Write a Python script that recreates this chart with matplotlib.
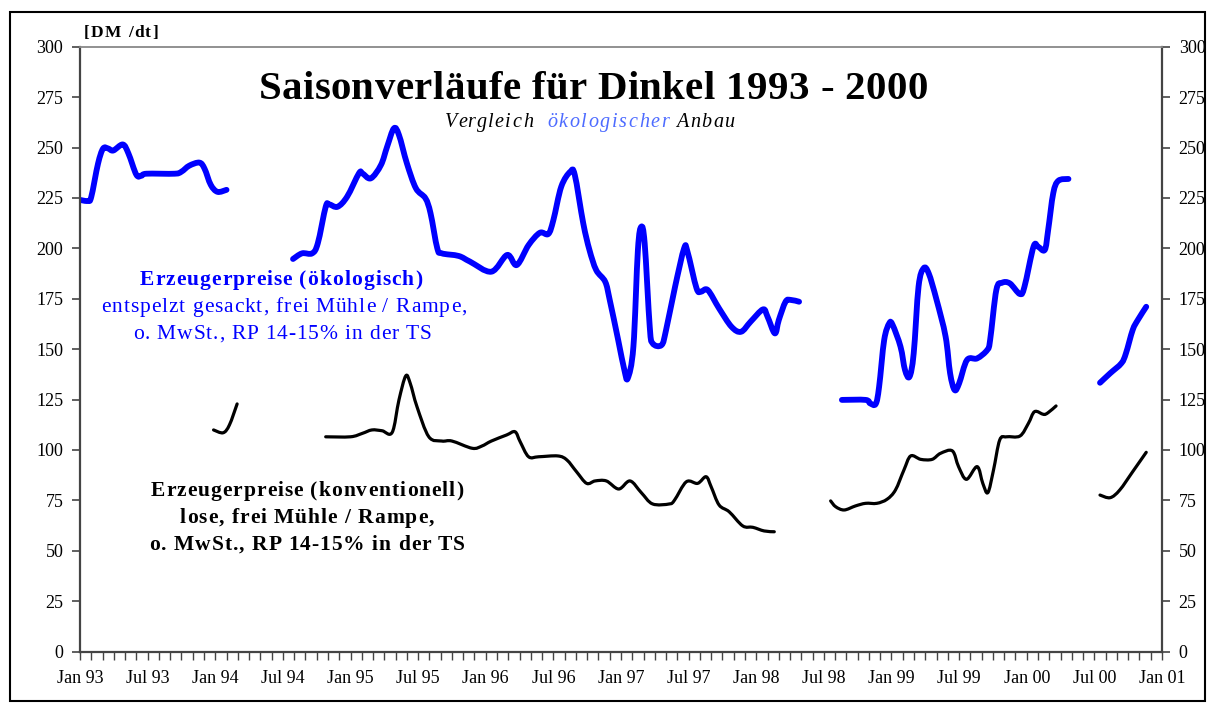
import matplotlib
matplotlib.use("Agg")
import matplotlib.pyplot as plt
from matplotlib.patches import Rectangle, PathPatch
from matplotlib.path import Path

plt.rcParams['font.family'] = ['Liberation Serif', 'DejaVu Serif']

# ---- data: months since Jan 1993, prices in DM/dt ----
eco_m1 = [0, 0.7, 1.0, 1.6, 2.05, 2.5, 2.95, 3.8, 4.3, 5.0, 5.45, 5.9, 8.4, 9.0, 9.7, 10.6, 11.05, 11.6, 12.2, 13.0]
eco_v1 = [224, 223.5, 225.5, 242, 249.5, 249.5, 248.5, 251.5, 247, 236.5, 236, 237, 237, 238, 241, 242.5, 239.5, 231.5, 228, 229]

eco_m2 = [18.9, 19.7, 20.6, 21.1, 21.8, 22.1, 22.85, 23.7, 24.75, 25.05, 25.8, 26.7, 27.25, 27.85, 28.3, 29.0,
          29.8, 30.65, 31.1, 31.7, 32.1, 33.6, 34.6, 36.5, 37.9, 38.75, 39.8, 40.8, 41.55, 42.0, 42.7, 43.5,
          43.9, 44.65, 45.2, 45.8, 46.6, 47.0, 47.75, 48.3, 48.6, 49.1, 49.5, 49.8, 50.1, 50.55, 50.8, 51.6,
          52.0, 52.8, 53.6, 53.9, 54.7, 55.1, 55.7, 56.7, 57.8, 58.65, 59.5, 60.6, 61.0, 61.65, 62.0, 62.6,
          63.05, 63.8]
eco_v2 = [194.7, 197.5, 197.5, 202.5, 220.6, 221.8, 220.6, 225.6, 237.2, 237.2, 234.7, 241.3, 250.4, 259.5, 256.2, 242.2,
          229.8, 224.8, 217.4, 200, 197.5, 196.2, 193.4, 188.4, 196.7, 191.7, 201.6, 207.7, 207.1, 214, 230.6, 238,
          236.4, 212.4, 199.2, 189.2, 183.4, 174.4, 154.5, 139.6, 135.5, 151.2, 199.2, 210.7, 202.5, 161.1, 152.9, 152,
          159.5, 181, 200, 198.3, 180.2, 178.5, 179.3, 170.2, 161.1, 158.6, 163.6, 169.7, 166.1, 157.8, 164.4, 173.5,
          174.4, 173.5]

eco_m3 = [67.6, 69.7, 70.1, 70.6, 70.9, 71.35, 71.8, 72.1, 72.8, 73.2, 73.6, 73.97, 74.4, 74.85, 75.3, 76.0,
          76.8, 77.2, 77.6, 78.0, 78.7, 79.6, 80.5, 80.75, 81.3, 81.8, 82.5, 83.4, 83.8, 84.6, 85.0, 85.6,
          85.9, 86.35, 86.8, 87.7]
eco_v3 = [124.8, 124.8, 123.1, 122.8, 131.3, 154.5, 162.8, 162, 151.2, 139.6, 136.3, 147.9, 181, 190.1, 187.6, 174.4,
          156.2, 138, 129.7, 133, 144.6, 145.4, 149.6, 154.5, 179.3, 182.9, 182.6, 177.3, 181, 200.8, 200.8, 199.2,
          209.1, 227.3, 233.5, 234.4]

eco_m4 = [90.5, 91.4, 92.4, 92.8, 93.4, 93.85, 94.6]
eco_v4 = [133.3, 138, 143, 147.9, 159.5, 164.4, 171]

conv_m1 = [11.85, 12.7, 13.26, 13.94]
conv_v1 = [109.9, 108.5, 112.4, 122.8]

conv_m2 = [21.8, 24.0, 25.05, 25.9, 26.8, 27.7, 28.3, 28.9, 29.3, 29.9, 30.95, 32.1, 33.0, 34.8, 35.65, 36.5,
           37.85, 38.6, 39.05, 39.8, 40.7, 42.4, 43.2, 44.05, 44.95, 45.7, 46.7, 47.8, 48.8, 49.8, 50.8, 52.3,
           52.75, 53.8, 54.8, 55.55, 56.0, 56.7, 57.6, 58.8, 59.7, 60.7, 61.6]
conv_v2 = [106.5, 106.5, 108.2, 109.9, 109.5, 108.7, 124.8, 136.7, 133, 121.4, 106.5, 104.4, 104.4, 100.8, 101.9, 104.4,
           107.4, 109, 104.1, 96.6, 96.6, 97, 95, 89.2, 83.4, 84.6, 84.6, 80.6, 84.6, 78.8, 73.2, 73.2,
           75.1, 84.2, 83.4, 86.7, 81.7, 72.7, 69.3, 62.3, 61.6, 59.8, 59.4]

conv_m3 = [66.6, 67.05, 67.8, 68.8, 69.7, 70.7, 71.6, 72.35, 73.1, 73.7, 74.6, 75.6, 76.35, 77.4, 77.95, 78.65,
           79.6, 80.1, 80.55, 81.05, 81.6, 82.2, 83.4, 84.15, 84.7, 85.5, 85.9, 86.6]
conv_v3 = [74.7, 71.8, 70.2, 72.2, 73.5, 73.5, 75.5, 80.1, 90, 97, 95.3, 95.3, 98.3, 99.5, 91.7, 85.4,
           91.7, 83.4, 78.8, 90, 104.9, 106.5, 106.9, 113.2, 119, 117.6, 118.5, 121.8]

conv_m4 = [90.5, 91.4, 92.25, 93.4, 94.6]
conv_v4 = [77.6, 76.3, 80.1, 89.2, 98.8]

x_labels = ["Jan 93", "Jul 93", "Jan 94", "Jul 94", "Jan 95", "Jul 95", "Jan 96", "Jul 96", "Jan 97",
            "Jul 97", "Jan 98", "Jul 98", "Jan 99", "Jul 99", "Jan 00", "Jul 00", "Jan 01"]
y_ticks = list(range(0, 301, 25))

W, H = 1214, 707
fig = plt.figure(figsize=(W / 100, H / 100), dpi=100)
L, R, T, B = 80, 1162, 46.7, 651.5
ax = fig.add_axes([L / W, 1 - B / H, (R - L) / W, (B - T) / H])

BLUE = '#0000FF'


def smooth_line(ax, xs, ys, **kw):
    """Excel-style smoothed line: cubic Bezier through the data points (drawn by matplotlib's Path)."""
    pts = list(zip(xs, ys))
    n = len(pts)
    verts = [pts[0]]
    codes = [Path.MOVETO]
    for i in range(n - 1):
        p0 = pts[i - 1] if i > 0 else pts[i]
        p1 = pts[i]
        p2 = pts[i + 1]
        p3 = pts[i + 2] if i + 2 < n else pts[i + 1]
        c1 = (p1[0] + (p2[0] - p0[0]) / 6, p1[1] + (p2[1] - p0[1]) / 6)
        c2 = (p2[0] - (p3[0] - p1[0]) / 6, p2[1] - (p3[1] - p1[1]) / 6)
        verts += [c1, c2, p2]
        codes += [Path.CURVE4] * 3
    patch = PathPatch(Path(verts, codes), fill=False, transform=ax.transData,
                      joinstyle='round', capstyle='round', **kw)
    ax.add_patch(patch)


for m, v in [(eco_m1, eco_v1), (eco_m2, eco_v2), (eco_m3, eco_v3), (eco_m4, eco_v4)]:
    smooth_line(ax, m, v, edgecolor=BLUE, lw=4.2)
for m, v in [(conv_m1, conv_v1), (conv_m2, conv_v2), (conv_m3, conv_v3), (conv_m4, conv_v4)]:
    smooth_line(ax, m, v, edgecolor='black', lw=2.3)

ax.set_xlim(0, 96)
ax.set_ylim(0, 300)
ax.set_yticks(y_ticks)
ax.set_yticklabels([str(t) for t in y_ticks])
months = list(range(0, 97))
labels = [x_labels[mm // 6] if mm % 6 == 0 else '' for mm in months]
ax.set_xticks(months)
ax.set_xticklabels(labels)

for s in ['left', 'bottom', 'right']:
    ax.spines[s].set_color('#444444')
    ax.spines[s].set_linewidth(1.6)
ax.spines['top'].set_color('#888888')
ax.spines['top'].set_linewidth(1.3)

ax.tick_params(axis='y', direction='out', length=6, width=1.2, color='#444444',
               labelsize=13, pad=6, right=True, labelright=True)
ax.tick_params(axis='x', direction='out', length=6, width=1.0, color='#444444',
               labelsize=13, pad=7)

renderer = fig.canvas.get_renderer()


def text_w(s, **kw):
    t = fig.text(0, 0, s, **kw)
    w = t.get_window_extent(renderer).width
    t.remove()
    return w


def spaced(x, y, s, sp=1.0, ha='center', **kw):
    """Draw text with extra letter spacing; x,y in pixels (y = baseline from top)."""
    ref = text_w('x', **kw)
    total = text_w(s + 'x', **kw) - ref + sp * (len(s) - 1)
    if ha == 'center':
        x0 = x - total / 2
    elif ha == 'right':
        x0 = x - total
    else:
        x0 = x
    for i, ch in enumerate(s):
        if ch == ' ':
            continue
        off = text_w(s[:i] + 'x', **kw) - ref if i > 0 else 0
        fig.text((x0 + off + i * sp) / W, 1 - y / H, ch, ha='left', va='baseline', **kw)
    return x0 + total


spaced(84, 37, "[DM /dt]", sp=1.2, ha='left', fontsize=12.5, fontweight='bold')
spaced(593, 99, "Saisonverläufe für Dinkel 1993 - 2000", sp=0.4, fontsize=29.4, fontweight='bold')
spaced(445, 127, "Vergleich", sp=1.6, ha='left', fontsize=14.5, style='italic')
spaced(547, 127, "ökologischer", sp=1.6, ha='left', fontsize=14.5, style='italic', color='#4D6BFF')
spaced(676, 127, "Anbau", sp=1.6, ha='left', fontsize=14.5, style='italic')

spaced(281, 285, "Erzeugerpreise (ökologisch)", sp=1.0, fontsize=15.5, fontweight='bold', color=BLUE)
spaced(284, 312, "entspelzt gesackt, frei Mühle / Rampe,", sp=0.9, fontsize=15.5, color=BLUE)
spaced(282, 339, "o. MwSt., RP 14-15% in der TS", sp=0.9, fontsize=15.5, color=BLUE)

spaced(307, 496, "Erzeugerpreise (konventionell)", sp=1.0, fontsize=15.5, fontweight='bold')
spaced(307, 523, "lose, frei Mühle / Rampe,", sp=1.0, fontsize=15.5, fontweight='bold')
spaced(307, 550, "o. MwSt., RP 14-15% in der TS", sp=1.0, fontsize=15.5, fontweight='bold')

fig.patches.append(Rectangle((10 / W, 1 - 701 / H), 1195 / W, 689 / H, transform=fig.transFigure,
                             fill=False, edgecolor='black', lw=1.5))

fig.savefig("out.png", dpi=100)
